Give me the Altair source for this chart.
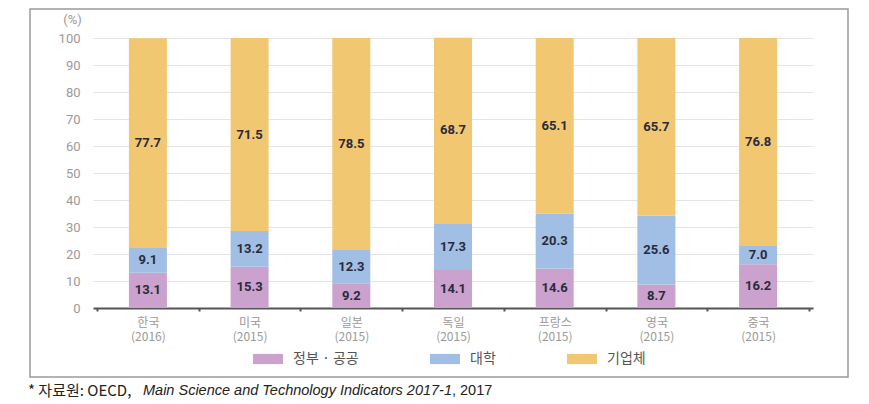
import altair as alt
import pandas as pd

countries = ["한국|(2016)", "미국|(2015)", "일본|(2015)", "독일|(2015)",
             "프랑스|(2015)", "영국|(2015)", "중국|(2015)"]
series = ["정부 · 공공", "대학", "기업체"]
gov = [13.1, 15.3, 9.2, 14.1, 14.6, 8.7, 16.2]
univ = [9.1, 13.2, 12.3, 17.3, 20.3, 25.6, 7.0]
biz = [77.7, 71.5, 78.5, 68.7, 65.1, 65.7, 76.8]
colors = ["#CBA2CD", "#A1BFE4", "#F2C772"]

rows = []
for i, c in enumerate(countries):
    for k, (s, vals) in enumerate(zip(series, [gov, univ, biz])):
        rows.append({"country": c, "series": s, "value": vals[i], "idx": k})
df = pd.DataFrame(rows)

KFONT = "Noto Sans CJK KR"
NFONT = "Roboto"

x_enc = alt.X("country:N", sort=countries, title=None,
              scale=alt.Scale(paddingInner=0, paddingOuter=0.04),
              axis=alt.Axis(labelExpr="split(datum.label, '|')", labelAngle=0,
                            labelColor="#9a9a9a", labelFont=KFONT, labelFontSize=12,
                            labelLineHeight=14, labelPadding=6, labelBaseline="top",
                            labelOverlap=False,
                            tickBand="extent", tickSize=3, tickWidth=2, tickColor="#555555",
                            domainColor="#555555", domainWidth=2, grid=False))

y_axis = alt.Axis(values=list(range(0, 101, 10)), grid=True, gridColor="#e4e4e4",
                  domain=False, ticks=False, labelColor="#9a9a9a", labelFont=NFONT,
                  labelFontSize=13, labelPadding=13, title="(%)", titleAngle=0,
                  titleX=-21, titleY=-19, titleAlign="center", titleBaseline="middle",
                  titleColor="#9a9a9a", titleFont=NFONT, titleFontSize=13,
                  titleFontWeight="normal")

bars = alt.Chart(df).mark_bar(size=38).encode(
    x=x_enc,
    y=alt.Y("sum(value):Q", stack="zero",
            scale=alt.Scale(domain=[0, 100], nice=False), axis=y_axis),
    color=alt.Color("series:N", sort=series,
                    scale=alt.Scale(domain=series, range=colors),
                    legend=alt.Legend(title=None, orient="none", direction="horizontal",
                                      legendX=160, legendY=306,
                                      symbolType="M-1,-0.34H1V0.34H-1Z", symbolSize=900,
                                      symbolStrokeWidth=0, symbolOpacity=1,
                                      labelFont=KFONT, labelFontSize=14, labelColor="#555555",
                                      labelOffset=10, columnPadding=71)),
    order=alt.Order("idx:Q", sort="ascending"),
)

labels = alt.Chart(df).transform_stack(
    stack="value", groupby=["country"], as_=["y0", "y1"],
    sort=[alt.SortField("idx", order="ascending")]
).transform_calculate(mid="(datum.y0 + datum.y1) / 2").mark_text(
    font=NFONT, fontSize=13, fontWeight="bold", color="#2a2a3a"
).encode(
    x=alt.X("country:N", sort=countries),
    y=alt.Y("mid:Q", axis=y_axis, scale=alt.Scale(domain=[0, 100], nice=False)),
    text=alt.Text("value:Q", format=".1f"),
)

one = pd.DataFrame({"a": [0]})
border = alt.Chart(one).mark_rect(fill=None, stroke="#9a9a9a", strokeWidth=1.5).encode(
    x=alt.value(-63), x2=alt.value(755), y=alt.value(-29), y2=alt.value(339))

note1 = alt.Chart(one).mark_text(align="left", baseline="middle", font=KFONT,
                                 fontSize=15, color="#222222").encode(
    x=alt.value(-65), y=alt.value(353), text=alt.value("* 자료원: OECD,"))
note2 = alt.Chart(one).mark_text(align="left", baseline="middle", font="Liberation Sans",
                                 fontStyle="italic", fontSize=14.5, color="#222222").encode(
    x=alt.value(50), y=alt.value(353),
    text=alt.value("Main Science and Technology Indicators 2017-1"))
note3 = alt.Chart(one).mark_text(align="left", baseline="middle", font="Liberation Sans",
                                 fontSize=14.5, color="#222222").encode(
    x=alt.value(359), y=alt.value(353), text=alt.value(", 2017"))

chart = alt.layer(border, bars, labels, note1, note2, note3).properties(
    width=720, height=270,
    autosize=alt.AutoSizeParams(type="none"),
    padding={"left": 85, "top": 30, "right": 48, "bottom": 96},
).configure_view(stroke=None).resolve_scale(y="shared")

chart.save("out.html", embed_options={"renderer": "svg", "actions": False})
